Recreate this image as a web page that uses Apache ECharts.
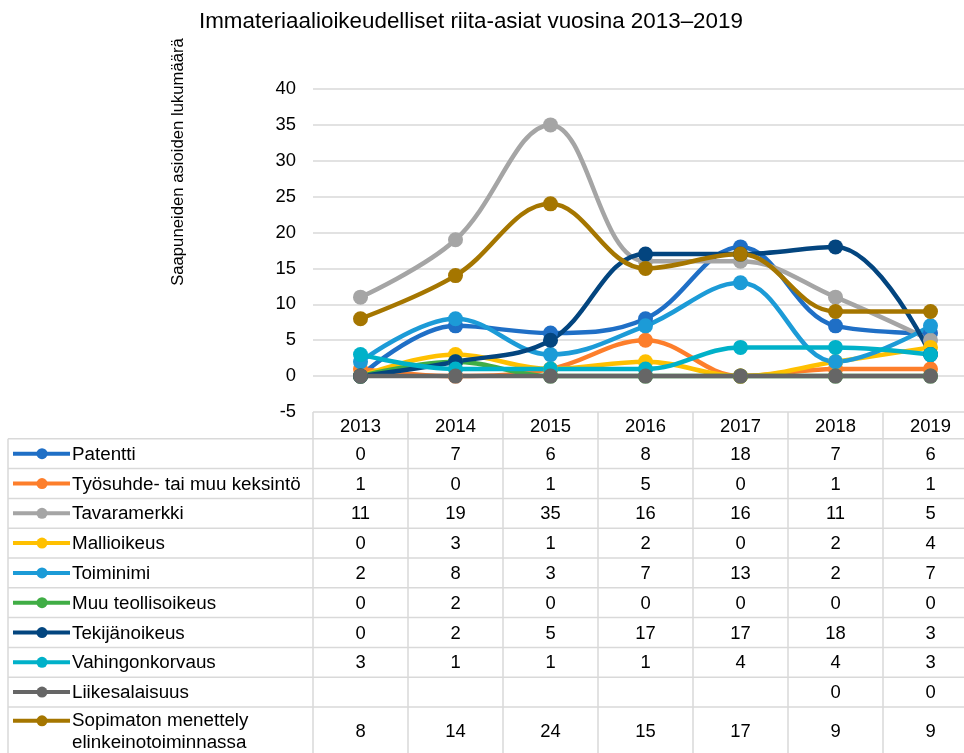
<!DOCTYPE html>
<html>
<head>
<meta charset="utf-8">
<script src="https://cdn.jsdelivr.net/npm/echarts@6/dist/echarts.min.js"></script>
<style>
  html, body { margin: 0; padding: 0; background: #fff; }
  #chart { width: 964px; height: 753px; }
</style>
</head>
<body>
<div id="chart"></div>
<script>
const years = ['2013', '2014', '2015', '2016', '2017', '2018', '2019'];

const seriesNames = [
  'Patentti',
  'Työsuhde- tai muu keksintö',
  'Tavaramerkki',
  'Mallioikeus',
  'Toiminimi',
  'Muu teollisoikeus',
  'Tekijänoikeus',
  'Vahingonkorvaus',
  'Liikesalaisuus',
  'Sopimaton menettely\nelinkeinotoiminnassa',
];

const patentti = [0, 7, 6, 8, 18, 7, 6];
const tyosuhde = [1, 0, 1, 5, 0, 1, 1];
const tavaramerkki = [11, 19, 35, 16, 16, 11, 5];
const mallioikeus = [0, 3, 1, 2, 0, 2, 4];
const toiminimi = [2, 8, 3, 7, 13, 2, 7];
const muuTeollisoikeus = [0, 2, 0, 0, 0, 0, 0];
const tekijanoikeus = [0, 2, 5, 17, 17, 18, 3];
const vahingonkorvaus = [3, 1, 1, 1, 4, 4, 3];
const liikesalaisuus = [null, null, null, null, null, 0, 0];
const sopimaton = [8, 14, 24, 15, 17, 9, 9];

const seriesValues = [
  patentti, tyosuhde, tavaramerkki, mallioikeus, toiminimi,
  muuTeollisoikeus, tekijanoikeus, vahingonkorvaus, liikesalaisuus, sopimaton,
];

const colors = [
  '#1f6fc6', '#fd7e2b', '#a5a5a5', '#ffc000', '#1c9bd7',
  '#40ad45', '#03457f', '#00b1c9', '#666666', '#a57600',
];

const FONT = 'Liberation Sans, Arial, sans-serif';
const FS = 18.4;
const GRID_COLOR = '#d9d9d9';

// table rows (in row units): header + one row per series, last row is two lines
const headerH = 0.9;
const rowH = seriesNames.map((n, i) => (i === seriesNames.length - 1 ? 1.6 : 1));
const rowTop = [];
let acc = headerH;
rowH.forEach((h) => { rowTop.push(acc); acc += h; });
const tableTotal = acc;
const rowPx = 29.8;

const chart = echarts.init(document.getElementById('chart'));

// cells of the data table
const cellData = [];
const cellText = [];
seriesValues.forEach((vals, r) => {
  vals.forEach((v, c) => {
    cellData.push([c, r]);
    cellText.push(v === null ? '' : String(v));
  });
});

const boundaries = [headerH].concat(rowTop.slice(1));

const lineSeries = seriesValues.map((vals, i) => ({
  name: seriesNames[i],
  type: 'line',
  xAxisIndex: 0,
  yAxisIndex: 0,
  // empty cells are plotted as zero
  data: vals.map((v) => (v === null ? 0 : v)),
  smooth: 0.38,
  symbol: 'circle',
  symbolSize: 15,
  showAllSymbol: true,
  lineStyle: { width: 4.5, color: colors[i] },
  itemStyle: { color: colors[i] },
  emphasis: { disabled: true },
}));

const option = {
  animation: false,
  textStyle: { fontFamily: FONT },
  title: {
    text: 'Immateriaalioikeudelliset riita-asiat vuosina 2013–2019',
    left: 199,
    top: 11,
    padding: 0,
    textStyle: { fontFamily: FONT, fontSize: 22.4, fontWeight: 'normal', color: '#000' },
  },
  graphic: [{
    type: 'text',
    x: 178,
    y: 162,
    rotation: Math.PI / 2,
    style: {
      text: 'Saapuneiden asioiden lukumäärä',
      font: '16.7px ' + FONT,
      fill: '#000',
      align: 'center',
      verticalAlign: 'middle',
    },
  }],
  grid: [
    { left: 313, top: 89, width: 665, height: 323, outerBoundsMode: 'none', containLabel: false },
    { left: 313, top: 412, width: 665, height: tableTotal * rowPx, outerBoundsMode: 'none', containLabel: false },
  ],
  xAxis: [
    {
      gridIndex: 0,
      type: 'category',
      data: years,
      boundaryGap: true,
      axisLine: { show: false },
      axisTick: { show: false },
      axisLabel: { interval: 0, fontSize: FS, color: '#000', margin: 6 },
      splitLine: { show: false },
    },
    {
      gridIndex: 1,
      type: 'category',
      data: years,
      boundaryGap: true,
      axisLine: { show: false },
      axisTick: { show: false },
      axisLabel: { show: false },
      splitLine: { show: true, interval: 0, lineStyle: { color: GRID_COLOR, width: 1.5 } },
    },
  ],
  yAxis: [
    {
      gridIndex: 0,
      type: 'value',
      min: -5,
      max: 40,
      interval: 5,
      axisLine: { show: false },
      axisTick: { show: false },
      axisLabel: { fontSize: FS, color: '#000', margin: 17 },
      splitLine: { lineStyle: { color: GRID_COLOR, width: 1.5 } },
    },
    {
      gridIndex: 1,
      type: 'value',
      inverse: true,
      min: 0,
      max: tableTotal,
      axisLine: { show: false },
      axisTick: { show: false },
      axisLabel: { show: false },
      splitLine: { show: false },
    },
  ],
  series: lineSeries.concat([
    {
      name: 'table-lines',
      type: 'custom',
      xAxisIndex: 1,
      yAxisIndex: 1,
      clip: false,
      silent: true,
      data: boundaries.map((b) => [0, b]),
      renderItem: (params, api) => {
        const y = api.coord([0, api.value(1)])[1];
        const cs = params.coordSys;
        const children = [{
          type: 'line',
          shape: { x1: 8, y1: y, x2: cs.x + cs.width, y2: y },
          style: { stroke: GRID_COLOR, lineWidth: 1.5 },
        }];
        if (params.dataIndex === 0) {
          children.push({
            type: 'line',
            shape: { x1: 8, y1: y, x2: 8, y2: cs.y + cs.height },
            style: { stroke: GRID_COLOR, lineWidth: 1.5 },
          });
        }
        return { type: 'group', children };
      },
    },
    {
      name: 'table-heads',
      type: 'custom',
      xAxisIndex: 1,
      yAxisIndex: 1,
      clip: false,
      silent: true,
      data: seriesNames.map((n, r) => [0, r]),
      renderItem: (params, api) => {
        const r = api.value(1);
        const mid = api.coord([0, rowTop[r] + rowH[r] / 2])[1];
        const twoLines = seriesNames[r].indexOf('\n') >= 0;
        const my = twoLines ? mid - 10 : mid;
        const col = colors[r];
        return {
          type: 'group',
          children: [
            { type: 'line', shape: { x1: 13, y1: my, x2: 70, y2: my }, style: { stroke: col, lineWidth: 4 } },
            { type: 'circle', shape: { cx: 42, cy: my, r: 5.5 }, style: { fill: col } },
            {
              type: 'text',
              style: {
                text: seriesNames[r],
                x: 72,
                y: mid + 1,
                font: '18.8px ' + FONT,
                lineHeight: 22,
                fill: '#000',
                align: 'left',
                verticalAlign: 'middle',
              },
            },
          ],
        };
      },
    },
    {
      name: 'table-cells',
      type: 'custom',
      xAxisIndex: 1,
      yAxisIndex: 1,
      clip: false,
      silent: true,
      data: cellData,
      renderItem: (params, api) => {
        const c = api.value(0);
        const r = api.value(1);
        const p = api.coord([c, rowTop[r] + rowH[r] / 2]);
        return {
          type: 'text',
          style: {
            text: cellText[params.dataIndex],
            x: p[0],
            y: p[1] + 1,
            font: FS + 'px ' + FONT,
            fill: '#000',
            align: 'center',
            verticalAlign: 'middle',
          },
        };
      },
    },
  ]),
};

chart.setOption(option);
</script>
</body>
</html>
